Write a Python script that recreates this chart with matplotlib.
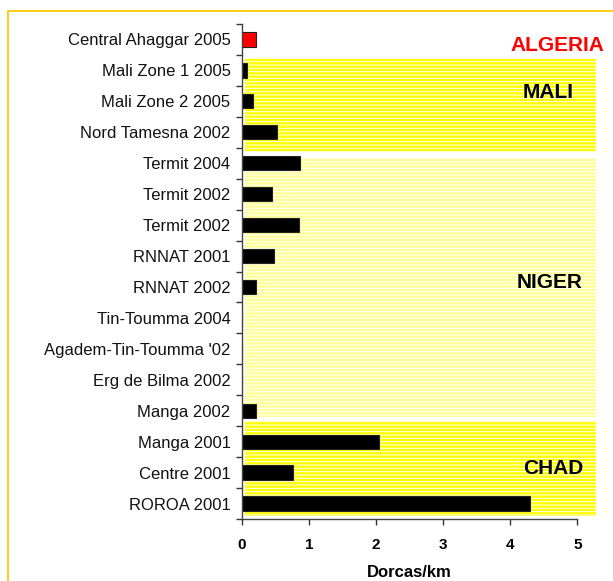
import matplotlib
matplotlib.use("Agg")
import matplotlib.pyplot as plt
from matplotlib.patches import Rectangle

plt.rcParams["font.family"] = ["Liberation Sans", "DejaVu Sans"]
plt.rcParams["hatch.linewidth"] = 0.7

sites = [
    "Central Ahaggar 2005", "Mali Zone 1 2005", "Mali Zone 2 2005",
    "Nord Tamesna 2002", "Termit 2004", "Termit 2002", "Termit 2002",
    "RNNAT 2001", "RNNAT 2002", "Tin-Toumma 2004", "Agadem-Tin-Toumma '02",
    "Erg de Bilma 2002", "Manga 2002", "Manga 2001", "Centre 2001", "ROROA 2001",
]
density = [0.22, 0.075, 0.17, 0.53, 0.87, 0.45, 0.85, 0.48, 0.21,
           0.0, 0.0, 0.0, 0.21, 2.04, 0.76, 4.30]

# country groups: first/last row, band colour, label colour
countries = ["ALGERIA", "MALI", "NIGER", "CHAD"]
country_rows = [(0, 0), (1, 3), (4, 12), (13, 15)]
band_colors = [None, "#ffff00", "#ffff99", "#ffff00"]
label_colors = ["#ff0000", "black", "black", "black"]

fig = plt.figure(figsize=(6.13, 5.81), dpi=100)
ax = fig.add_axes([0.3943, 0.1067, 0.5475, 0.852])

# gold frame around the chart area
fig.patches.append(Rectangle((8 / 613, -0.1), 1.2, 1 - 11 / 581 + 0.1,
                             transform=fig.transFigure, fill=False,
                             edgecolor="#ffcc00", linewidth=1.3))

# striped background bands per country
band_offsets = {1: (0.11, 0.13), 2: (0.34, -0.31), 3: (-0.18, -0.11)}
for i, (first, last) in enumerate(country_rows):
    if band_colors[i] is None:
        continue
    top = first - 0.5 + band_offsets[i][0]
    bot = last + 0.5 + band_offsets[i][1]
    ax.add_patch(Rectangle((0.05, top), 5.23, bot - top, facecolor=band_colors[i],
                           edgecolor="white", linewidth=0, hatch="-----",
                           clip_on=False, zorder=1))

colors = ["#ff0000"] + ["black"] * (len(sites) - 1)
ax.barh(range(len(sites)), density, height=0.46, color=colors,
        edgecolor="#222222", linewidth=0.8, zorder=3)

# country names
label_pos = [(4.70, 0.18), (4.56, 1.70), (4.58, 7.84), (4.64, 13.88)]
for name, (x, y), c in zip(countries, label_pos, label_colors):
    ax.text(x, y, name, color=c, fontsize=15, fontweight="bold",
            ha="center", va="center", zorder=4)

ax.set_xlim(0, 5)
ax.set_ylim(len(sites) - 0.5, -0.5)
ax.set_xticks(range(6))
ax.set_xticklabels([str(v) for v in range(6)], fontsize=11, fontweight="bold")
ax.set_yticks([i - 0.5 for i in range(len(sites) + 1)])
ax.set_yticklabels([])
ax.set_yticks(range(len(sites)), minor=True)
ax.set_yticklabels(sites, minor=True, fontsize=12, color="#111111")
ax.tick_params(axis="y", which="major", length=4, width=1, color="#333333")
ax.tick_params(axis="y", which="minor", length=0, pad=8)
ax.tick_params(axis="x", length=4, width=1, color="#333333", pad=10)
ax.set_xlabel("Dorcas/km", fontsize=12, fontweight="bold", labelpad=9)

for s in ("top", "right"):
    ax.spines[s].set_visible(False)
for s in ("left", "bottom"):
    ax.spines[s].set_color("#444444")
    ax.spines[s].set_linewidth(1.0)
    ax.spines[s].set_zorder(5)
ax.set_facecolor("none")

fig.savefig("out.png", dpi=100)
